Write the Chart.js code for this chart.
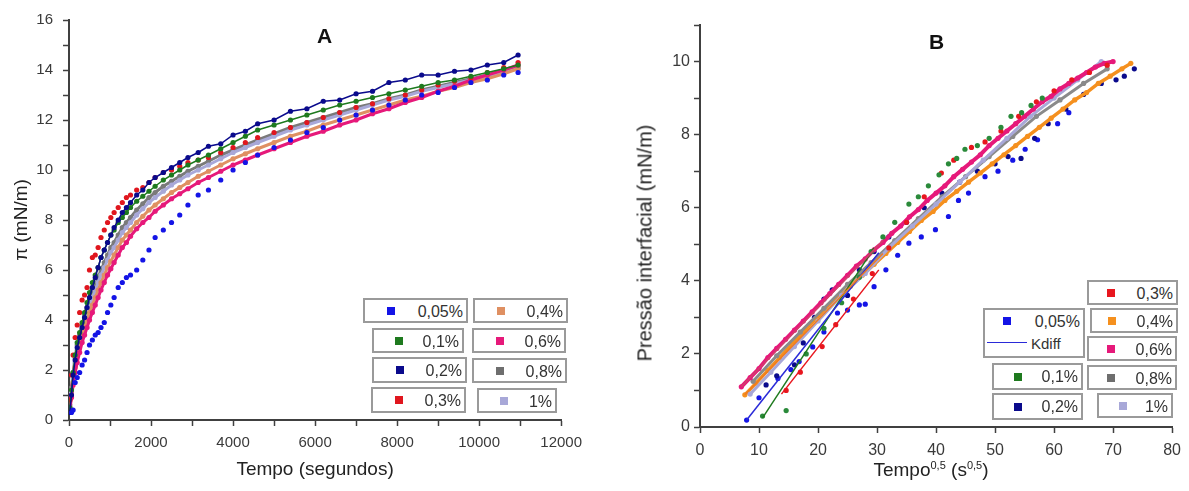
<!DOCTYPE html>
<html>
<head>
<meta charset="utf-8">
<script src="https://cdn.jsdelivr.net/npm/chart.js@4.4.1/dist/chart.umd.min.js"></script>
<style>
  body { margin: 0; background: #fff; }
  #wrap { position: relative; width: 1189px; height: 491px; overflow: hidden;
          font-family: "Liberation Sans", Arial, sans-serif; color: #2a2a2a; }
  canvas { position: absolute; top: 0; }
  #chartA { left: 0; }
  #chartB { left: 600px; }
  .panel-title { position: absolute; font-weight: bold; font-size: 21px; color: #111; }
  .lg { position: absolute; box-sizing: border-box; border: 2px solid #9a9a9a; background: #fff;
        font-size: 16px; line-height: 21px; color: #333; }
  .lg .mk { position: absolute; width: 8px; height: 8px; top: 50%; transform: translateY(-50%); }
  .lg .tx { position: absolute; right: 3px; top: 1px; }
  .axis-title { position: absolute; font-size: 19px; white-space: nowrap; color: #222; }
  .axis-title sup { font-size: 11px; }
</style>
</head>
<body>
<div id="wrap">
  <canvas id="chartA" width="590" height="491"></canvas>
  <canvas id="chartB" width="589" height="491"></canvas>

  <div class="panel-title" style="left:317px;top:24px">A</div>
  <div class="panel-title" style="left:929px;top:30px">B</div>

  <!-- legend A -->
  <div class="lg" style="left:363px;top:298px;width:105px;height:25px"><span class="mk" style="left:22px;background:#1414e6"></span><span class="tx">0,05%</span></div>
  <div class="lg" style="left:473px;top:298px;width:95px;height:25px"><span class="mk" style="left:22px;background:#df9062"></span><span class="tx">0,4%</span></div>
  <div class="lg" style="left:372px;top:328px;width:92px;height:25px"><span class="mk" style="left:21px;background:#1e7a1e"></span><span class="tx">0,1%</span></div>
  <div class="lg" style="left:472px;top:328px;width:94px;height:25px"><span class="mk" style="left:22px;background:#e6197a"></span><span class="tx">0,6%</span></div>
  <div class="lg" style="left:372px;top:357px;width:95px;height:26px"><span class="mk" style="left:22px;background:#0a0a8c"></span><span class="tx">0,2%</span></div>
  <div class="lg" style="left:472px;top:358px;width:95px;height:25px"><span class="mk" style="left:22px;background:#6e6e6e"></span><span class="tx">0,8%</span></div>
  <div class="lg" style="left:371px;top:387px;width:95px;height:26px"><span class="mk" style="left:22px;background:#e0161e"></span><span class="tx">0,3%</span></div>
  <div class="lg" style="left:477px;top:388px;width:80px;height:25px"><span class="mk" style="left:21px;background:#a8a8d8"></span><span class="tx">1%</span></div>

  <!-- legend B -->
  <div class="lg" style="left:1087px;top:280px;width:91px;height:25px"><span class="mk" style="left:18px;background:#e8161e"></span><span class="tx">0,3%</span></div>
  <div class="lg" style="left:983px;top:308px;width:102px;height:50px">
    <span class="mk" style="left:18px;top:11px;background:#1414e6"></span><span class="tx">0,05%</span>
    <span style="position:absolute;left:2px;top:32px;width:40px;height:0;border-top:1.5px solid #2a2ad8"></span>
    <span style="position:absolute;left:46px;top:23px;font-size:15px">Kdiff</span>
  </div>
  <div class="lg" style="left:1090px;top:308px;width:88px;height:25px"><span class="mk" style="left:16px;background:#f5901e"></span><span class="tx">0,4%</span></div>
  <div class="lg" style="left:1087px;top:336px;width:90px;height:25px"><span class="mk" style="left:18px;background:#e6197a"></span><span class="tx">0,6%</span></div>
  <div class="lg" style="left:992px;top:363px;width:91px;height:27px"><span class="mk" style="left:20px;background:#1e7a1e"></span><span class="tx">0,1%</span></div>
  <div class="lg" style="left:1087px;top:365px;width:90px;height:25px"><span class="mk" style="left:18px;background:#6e6e6e"></span><span class="tx">0,8%</span></div>
  <div class="lg" style="left:992px;top:393px;width:91px;height:27px"><span class="mk" style="left:20px;background:#0a0a8c"></span><span class="tx">0,2%</span></div>
  <div class="lg" style="left:1097px;top:393px;width:76px;height:25px"><span class="mk" style="left:20px;background:#a8a8d8"></span><span class="tx">1%</span></div>

  <div class="axis-title" style="left:645px;top:243px;font-size:20px;transform:translate(-50%,-50%) rotate(-90deg)">Pressão interfacial (mN/m)</div>
  <div class="axis-title" style="left:931px;top:459px;transform:translateX(-50%)">Tempo<sup>0,5</sup> (s<sup>0,5</sup>)</div>
</div>

<script>
// ---- Panel A: surface pressure vs time (s) ----
const timeA = [20, 60, 100, 150, 200, 260, 320, 380, 440, 500,
  570, 640, 710, 780, 860, 940, 1020, 1100, 1200, 1300,
  1400, 1500, 1650, 1800, 1950, 2100, 2300, 2500, 2700, 2900,
  3150, 3400, 3700, 4000, 4300, 4600, 5000, 5400, 5800, 6200,
  6600, 7000, 7400, 7800, 8200, 8600, 9000, 9400, 9800, 10200,
  10600, 10950];

const piA005 = [null, 0.3, 0.4, 1.5, 1.7, 1.9, 2.2, 2.4, 2.7, 3.0,
  3.2, 3.4, 3.5, 3.7, 3.9, 4.3, 4.6, 4.9, 5.3, 5.5,
  5.7, 5.8, 6.0, 6.4, 6.8, 7.3, 7.6, 7.9, 8.2, 8.6,
  9.0, 9.2, 9.6, 10.0, 10.3, 10.6, 10.9, 11.2, 11.5, 11.7,
  12.0, 12.2, 12.4, 12.6, 12.8, 13.0, 13.1, 13.3, 13.5, 13.6,
  13.8, 13.9];
const piA01 = [0.5, 1.2, 1.9, 2.6, 3.1, 3.5, 3.9, 4.3, 4.7, 5.1,
  5.5, 5.8, 6.1, 6.5, 6.8, 7.1, 7.4, 7.6, 7.9, 8.1,
  8.3, 8.5, 8.75, 8.95, 9.15, 9.35, 9.6, 9.8, 10.0, 10.2,
  10.4, 10.6, 10.85, 11.1, 11.35, 11.6, 11.8, 12.0, 12.2, 12.4,
  12.6, 12.75, 12.9, 13.05, 13.2, 13.35, 13.5, 13.6, 13.75, 13.9,
  14.05, 14.2];
const piA02 = [0.3, 1.0, 1.8, 2.4, 2.9, 3.3, 3.7, 4.1, 4.5, 4.9,
  5.3, 5.7, 6.1, 6.5, 6.8, 7.1, 7.4, 7.7, 8.0, 8.3,
  8.5, 8.7, 9.0, 9.2, 9.5, 9.7, 9.9, 10.1, 10.3, 10.5,
  10.7, 10.95, 11.05, 11.4, 11.55, 11.85, 12.0, 12.35, 12.45, 12.75,
  12.8, 13.05, 13.15, 13.5, 13.6, 13.8, 13.8, 13.95, 14.0, 14.2,
  14.3, 14.6];
const piA03 = [0.8, 1.8, 2.6, 3.3, 3.8, 4.3, 4.8, 5.0, 5.3, 6.0,
  6.5, 6.6, 6.9, 7.3, 7.6, 7.9, 8.1, 8.3, 8.5, 8.7,
  8.9, 9.0, 9.2, 9.3, 9.5, 9.7, 9.9, 10.0, 10.15, 10.3,
  10.4, 10.5, 10.7, 10.9, 11.1, 11.3, 11.5, 11.7, 11.9, 12.1,
  12.3, 12.5, 12.65, 12.85, 13.0, 13.2, 13.4, 13.55, 13.7, 13.9,
  14.1, 14.3];
const piA04 = [0.5, 1.0, 1.5, 2.1, 2.6, 3.0, 3.4, 3.7, 4.0, 4.3,
  4.6, 4.9, 5.2, 5.5, 5.8, 6.1, 6.35, 6.6, 6.9, 7.2,
  7.4, 7.6, 7.9, 8.15, 8.4, 8.6, 8.85, 9.1, 9.3, 9.5,
  9.75, 9.95, 10.2, 10.45, 10.65, 10.85, 11.1, 11.35, 11.55, 11.8,
  12.0, 12.2, 12.4, 12.6, 12.8, 12.95, 13.15, 13.3, 13.5, 13.65,
  13.85, 14.05];
const piA06 = [0.4, 0.9, 1.4, 1.9, 2.3, 2.7, 3.1, 3.4, 3.7, 4.0,
  4.3, 4.6, 4.9, 5.2, 5.5, 5.8, 6.05, 6.3, 6.6, 6.9,
  7.1, 7.35, 7.65, 7.9, 8.1, 8.35, 8.6, 8.85, 9.05, 9.25,
  9.5, 9.7, 9.95, 10.2, 10.4, 10.6, 10.85, 11.1, 11.35, 11.55,
  11.8, 12.0, 12.25, 12.45, 12.7, 12.9, 13.15, 13.35, 13.6, 13.8,
  14.0, 14.2];
const piA08 = [0.6, 1.3, 1.9, 2.5, 3.0, 3.4, 3.8, 4.2, 4.5, 4.8,
  5.1, 5.4, 5.7, 6.0, 6.3, 6.6, 6.9, 7.1, 7.4, 7.7,
  7.9, 8.1, 8.4, 8.65, 8.9, 9.1, 9.35, 9.55, 9.75, 9.95,
  10.15, 10.35, 10.6, 10.8, 11.0, 11.2, 11.45, 11.7, 11.9, 12.1,
  12.3, 12.5, 12.65, 12.85, 13.0, 13.2, 13.35, 13.5, 13.65, 13.8,
  13.95, 14.1];
const piA1 = [0.5, 1.1, 1.7, 2.3, 2.8, 3.2, 3.6, 4.0, 4.3, 4.6,
  4.9, 5.2, 5.5, 5.8, 6.1, 6.4, 6.7, 6.9, 7.2, 7.5,
  7.7, 7.9, 8.2, 8.45, 8.7, 8.9, 9.15, 9.4, 9.6, 9.8,
  10.0, 10.2, 10.45, 10.7, 10.9, 11.1, 11.35, 11.6, 11.8, 12.0,
  12.2, 12.4, 12.6, 12.8, 12.95, 13.15, 13.3, 13.45, 13.6, 13.75,
  13.9, 14.05];

// ---- Panel B: interfacial pressure vs sqrt(time) ----
const sqrtB005 = [7.9, 10, 13.2, 15.4, 16.8, 19.1, 21, 23.3, 25, 27, 28, 29.5, 31.5, 33.5,
  35.4, 37.5, 39.9, 42.1, 43.8, 45.5, 48.3, 50.5, 53, 55.1, 57.2, 60.6, 62.5];
const presB005 = [0.19, 0.8, 1.33, 1.57, 1.79, 2.19, 2.6, 3.12, 3.2, 3.34, 3.36, 3.84, 4.3, 4.7,
  5.03, 5.2, 5.4, 5.76, 6.2, 6.4, 6.85, 7.0, 7.3, 7.6, 7.86, 8.3, 8.6];
const sqrtB01 = [10.6, 14.6, 18, 21, 24, 27, 29, 31, 33, 35.4, 37, 38.7, 40.5, 42.1, 43.5,
  44.9, 47, 49, 51, 52.7, 54.5, 56.1, 58];
const presB01 = [0.3, 0.45, 2.0, 2.7, 3.4, 4.1, 4.8, 5.2, 5.6, 6.1, 6.3, 6.6, 6.9, 7.2, 7.35,
  7.6, 7.7, 7.9, 8.2, 8.5, 8.6, 8.8, 9.0];
const sqrtB02 = [11.2, 13, 16, 17.5, 19.4, 21, 22.4, 25, 27, 29.5, 32, 35, 38, 41, 44, 47,
  50, 52.2, 54.4, 56.7, 59, 62, 65, 68, 70.5, 71.9, 73.6];
const presB02 = [1.15, 1.4, 1.7, 2.3, 3.0, 3.5, 3.75, 3.6, 4.3, 4.8, 5.2, 5.6, 6.0, 6.4, 6.7, 7.0,
  7.2, 7.4, 7.35, 7.9, 8.3, 8.7, 9.1, 9.4, 9.5, 9.6, 9.8];
const sqrtB03 = [14.6, 17, 20.7, 23, 26, 29.2, 32, 35, 38, 40.9, 43, 46, 48.3, 51, 54, 57, 60, 63, 66, 69];
const presB03 = [1.0, 1.5, 2.2, 2.8, 3.5, 4.2, 4.9, 5.6, 6.3, 6.95, 7.3, 7.65, 7.8, 8.1, 8.5, 8.9, 9.2, 9.5, 9.7, 9.9];
const sqrtB04 = [7.6, 9.5, 11.5, 13.5, 15.5, 17.5, 19.5, 21.5, 23.5, 25.5, 27.5, 29.5, 31.5, 33.5,
  35.5, 37.5, 39.5, 41.5, 43.5, 45.5, 47.5, 49.5, 51.5, 53.5, 55.5, 57.5, 59.5, 61.5, 63.5,
  65.5, 67.5, 69.5, 71.5, 73];
const presB04 = [0.88, 1.2, 1.55, 1.9, 2.25, 2.6, 2.95, 3.25, 3.55, 3.85, 4.15, 4.45, 4.75, 5.05,
  5.35, 5.65, 5.9, 6.2, 6.45, 6.7, 6.95, 7.2, 7.45, 7.7, 7.95, 8.2, 8.45, 8.7, 8.95,
  9.15, 9.4, 9.6, 9.8, 9.95];
const sqrtB06 = [7, 8.5, 10, 11.5, 13, 14.5, 16, 17.5, 19, 20.5, 22, 23.5, 25, 26.5, 28, 29.5,
  31, 32.5, 34, 35.5, 37, 38.5, 40, 41.5, 43, 44.5, 46, 47.5, 49, 50.5, 52, 53.5, 55, 56.5,
  58, 59.5, 61, 62.5, 64, 65.5, 67, 68.5, 70];
const presB06 = [1.1, 1.35, 1.6, 1.9, 2.15, 2.4, 2.65, 2.9, 3.15, 3.4, 3.65, 3.9, 4.15, 4.4, 4.6, 4.85,
  5.05, 5.3, 5.5, 5.75, 5.95, 6.2, 6.4, 6.6, 6.85, 7.05, 7.25, 7.45, 7.7, 7.9, 8.1, 8.3, 8.5, 8.7,
  8.9, 9.05, 9.25, 9.4, 9.55, 9.7, 9.85, 9.95, 10.0];
const sqrtB08 = [9, 13, 17, 21, 25, 29, 33, 37, 41, 45, 49, 53, 57, 61, 65, 69];
const presB08 = [1.25, 1.95, 2.6, 3.25, 3.9, 4.5, 5.1, 5.7, 6.3, 6.85, 7.4, 7.95, 8.5, 8.95, 9.4, 9.8];
const sqrtB1 = [8.5, 12, 16, 20, 24, 28, 32, 36, 40, 44, 48, 52, 56, 60, 64, 68];
const presB1 = [0.9, 1.5, 2.2, 2.9, 3.6, 4.2, 4.9, 5.5, 6.1, 6.7, 7.3, 7.9, 8.5, 9.0, 9.5, 10.0];

// Kdiff linear fits (start / end)
const kdiffX005 = [7.9, 30.3], kdiffY005 = [0.19, 4.77];
const kdiffX01 = [10.6, 29.5], kdiffY01 = [0.25, 4.9];
const kdiffX03 = [13.8, 30.3], kdiffY03 = [0.9, 4.3];
const kdiffX04 = [7.6, 31], kdiffY04 = [0.88, 4.75];
const kdiffX06 = [7, 31], kdiffY06 = [1.1, 5.1];

const FONT = '"Liberation Sans", Arial, sans-serif';
const AXIS = '#404040';
Chart.defaults.font.family = FONT;

function pairs(xs, ys) {
    return xs.map((x, i) => ({ x: x, y: ys[i] })).filter(p => p.y !== null);
}

// lineWidth 0 = dots only
function dots(label, xs, ys, color, lineWidth, order) {
    return {
        label: label,
        data: pairs(xs, ys),
        backgroundColor: color,
        borderColor: color,
        pointRadius: 2.6,
        pointBorderWidth: 0,
        showLine: lineWidth > 0,
        borderWidth: lineWidth,
        order: order
    };
}

function fitLine(xs, ys, color) {
    return {
        label: 'Kdiff',
        data: pairs(xs, ys),
        borderColor: color,
        borderWidth: 1.5,
        pointRadius: 0,
        showLine: true,
        order: 0
    };
}

function axis(min, max, step, labelEvery, fontSize, pad, fitSize, horizontal, title) {
    const s = {
        type: 'linear',
        min: min,
        max: max,
        afterFit: (sc) => { if (horizontal) sc.height = fitSize; else sc.width = fitSize; },
        ticks: {
            stepSize: step,
            includeBounds: false,
            autoSkip: false,
            maxRotation: 0,
            padding: pad,
            color: '#3a3a3a',
            font: { size: fontSize },
            callback: (v) => (v % labelEvery === 0 ? v : '')
        },
        grid: { drawOnChartArea: false, tickLength: 6, tickColor: AXIS, tickWidth: 1.5 },
        border: { color: AXIS, width: 2 }
    };
    if (title) s.title = title;
    return s;
}

new Chart(document.getElementById('chartA'), {
    type: 'scatter',
    data: {
        datasets: [
            dots('0,05%', timeA, piA005, '#1414e6', 0, 1),
            dots('0,2%', timeA, piA02, '#0a0a8c', 1.5, 2),
            dots('0,1%', timeA, piA01, '#1e7a1e', 1.5, 3),
            dots('0,3%', timeA, piA03, '#e0161e', 0, 4),
            dots('0,6%', timeA, piA06, '#e6197a', 3, 5),
            dots('0,4%', timeA, piA04, '#df9062', 3, 6),
            dots('1%', timeA, piA1, '#a8a8d8', 3, 7),
            dots('0,8%', timeA, piA08, '#7a7a7a', 3, 8)
        ]
    },
    options: {
        responsive: false,
        animation: false,
        layout: { padding: { left: 0, top: 20, right: 25, bottom: 0 } },
        plugins: { legend: { display: false }, tooltip: { enabled: false } },
        scales: {
            x: axis(0, 12000, 1000, 2000, 15, 8, 71, true, {
                display: true, text: 'Tempo (segundos)', color: '#222',
                font: { size: 19 }, padding: { top: 0, bottom: 10 }
            }),
            y: axis(0, 16, 1, 2, 15, 10, 69, false, {
                display: true, text: 'π (mN/m)', color: '#222',
                font: { size: 19 }, padding: { top: 10, bottom: 0 }
            })
        }
    }
});

new Chart(document.getElementById('chartB'), {
    type: 'scatter',
    data: {
        datasets: [
            fitLine(kdiffX06, kdiffY06, '#d0406a'),
            fitLine(kdiffX04, kdiffY04, '#f07a20'),
            fitLine(kdiffX005, kdiffY005, '#2a2ad8'),
            fitLine(kdiffX01, kdiffY01, '#1e7a1e'),
            fitLine(kdiffX03, kdiffY03, '#e8161e'),
            dots('0,1%', sqrtB01, presB01, '#2a8a3a', 0, 1),
            dots('0,3%', sqrtB03, presB03, '#e8161e', 0, 2),
            dots('0,6%', sqrtB06, presB06, '#e6197a', 4, 3),
            dots('1%', sqrtB1, presB1, '#a8a8d8', 3, 4),
            dots('0,8%', sqrtB08, presB08, '#8a8a8a', 3, 5),
            dots('0,4%', sqrtB04, presB04, '#f5901e', 3.5, 6),
            dots('0,2%', sqrtB02, presB02, '#0a0a8c', 0, 7),
            dots('0,05%', sqrtB005, presB005, '#1414e6', 0, 8)
        ]
    },
    options: {
        responsive: false,
        animation: false,
        layout: { padding: { left: 0, top: 25, right: 14, bottom: 0 } },
        plugins: { legend: { display: false }, tooltip: { enabled: false } },
        scales: {
            x: axis(0, 80, 10, 10, 16, 8, 64, true, null),
            y: axis(0, 11, 1, 2, 16, 4, 100, false, null)
        }
    }
});
</script>
</body>
</html>
